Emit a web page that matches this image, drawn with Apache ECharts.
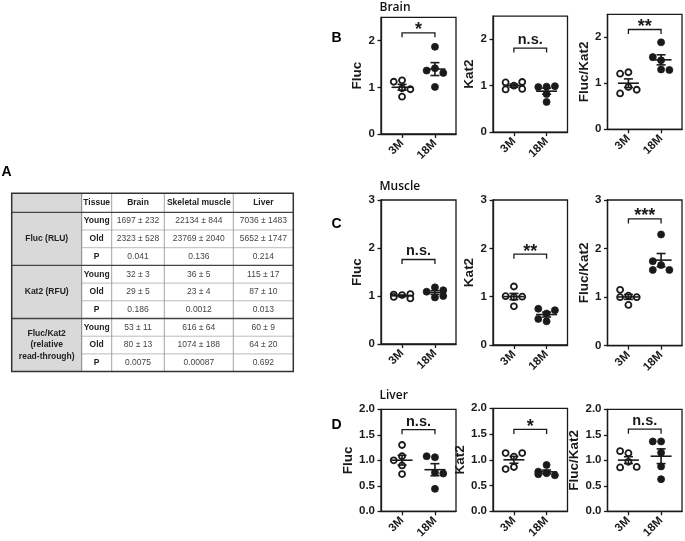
<!DOCTYPE html>
<html><head><meta charset="utf-8">
<script src="https://cdn.jsdelivr.net/npm/echarts@6/dist/echarts.min.js"></script>
<style>html,body{margin:0;padding:0;background:#fff}#c{width:685px;height:541px}</style>
</head><body><div id="c"></div>
<script>
// ---------------- DATA ----------------
const categories = ['3M', '18M'];
const tissues = ['Brain', 'Muscle', 'Liver'];
const panelLetters = ['B', 'C', 'D'];
const measures = ['Fluc', 'Kat2', 'Fluc/Kat2'];

const brainFluc3M = [0.80, 1.15, 1.12, 0.98, 0.96];
const brainFluc18M = [1.87, 1.41, 1.36, 1.31, 1.01];
const brainKat2_3M = [1.00, 1.07, 1.08, 0.92, 0.93];
const brainKat2_18M = [0.98, 0.97, 0.99, 0.82, 0.65];
const brainRatio3M = [1.24, 1.21, 0.92, 0.86, 0.78];
const brainRatio18M = [1.89, 1.50, 1.57, 1.30, 1.29];

const muscleFluc3M = [1.02, 1.03, 1.04, 0.95, 0.98];
const muscleFluc18M = [1.18, 1.09, 1.12, 0.97, 1.00];
const muscleKat2_3M = [1.21, 0.99, 1.01, 1.00, 0.80];
const muscleKat2_18M = [0.65, 0.75, 0.72, 0.54, 0.49];
const muscleRatio3M = [1.03, 1.15, 1.00, 1.00, 0.84];
const muscleRatio18M = [2.29, 1.66, 1.74, 1.56, 1.56];

const liverFluc3M = [1.30, 0.90, 0.73, 1.08, 1.00];
const liverFluc18M = [1.06, 1.08, 0.76, 0.74, 0.44];
const liverKat2_3M = [1.06, 1.13, 1.13, 0.86, 0.82];
const liverKat2_18M = [0.90, 0.74, 0.77, 0.70, 0.72];
const liverRatio3M = [1.14, 1.18, 0.97, 0.87, 0.86];
const liverRatio18M = [1.37, 1.37, 1.15, 0.88, 0.63];

const sigLabels = [['*', 'n.s.', '**'], ['n.s.', '**', '***'], ['n.s.', '*', 'n.s.']];
const bracketLevels = [[2.17, 1.81, 2.17], [1.76, 1.88, 2.61], [1.60, 1.59, 1.61]];

const yMaxes = [2.5, 3, 2];
const yTickValues = [[0, 1, 2], [0, 1, 2, 3], [0, 0.5, 1, 1.5, 2]];
const yTickDecimals = [0, 0, 1];

// Table (panel A)
const tableHeader = ['', 'Tissue', 'Brain', 'Skeletal muscle', 'Liver'];
const tableGroups = ['Fluc (RLU)', 'Kat2 (RFU)', 'Fluc/Kat2\n(relative\nread-through)'];
const tableRowLabels = ['Young', 'Old', 'P'];
const flucRLU = [['1697 ± 232', '22134 ± 844', '7036 ± 1483'], ['2323 ± 528', '23769 ± 2040', '5652 ± 1747'], ['0.041', '0.136', '0.214']];
const kat2RFU = [['32 ± 3', '36 ± 5', '115 ± 17'], ['29 ± 5', '23 ± 4', '87 ± 10'], ['0.186', '0.0012', '0.013']];
const ratioRT = [['53 ± 11', '616 ± 64', '60 ± 9'], ['80 ± 13', '1074 ± 188', '64 ± 20'], ['0.0075', '0.00087', '0.692']];

const plotData = [
  [[brainFluc3M, brainFluc18M], [brainKat2_3M, brainKat2_18M], [brainRatio3M, brainRatio18M]],
  [[muscleFluc3M, muscleFluc18M], [muscleKat2_3M, muscleKat2_18M], [muscleRatio3M, muscleRatio18M]],
  [[liverFluc3M, liverFluc18M], [liverKat2_3M, liverKat2_18M], [liverRatio3M, liverRatio18M]]
];
const tableBody = [flucRLU, kat2RFU, ratioRT];

// ---------------- LAYOUT / STYLE ----------------
const FONT = '"Liberation Sans", Arial, Helvetica, sans-serif';
const INK = '#1a1a1a';
const lefts = [381, 493, 607.5], widths = [75, 74.5, 74.5];
const tops = [[17.4, 16.1, 14.3], [200, 200, 200], [409.3, 408.3, 409.3]];
const heights = [[116.6, 116, 115], [144, 145, 145.7], [102.4, 103.4, 103.4]];
const nameGaps = [[16.5, 14.5, 13.5], [15.5, 14.5, 12], [24, 21, 18.5]];
const X_MIN = -0.64, X_MAX = 1.64;
const DOT_STEP = 8.3, DOT_THR = 6.8;

function mean(a) { return a.reduce((s, v) => s + v, 0) / a.length; }
function sem(a) {
  const m = mean(a);
  const v = a.reduce((s, x) => s + (x - m) * (x - m), 0) / (a.length - 1);
  return Math.sqrt(v) / Math.sqrt(a.length);
}
// simple greedy beeswarm: column index per point (-1, 0, +1)
function swarm(vals, pxPerUnit) {
  const placed = [], counts = { '-1': 0, '0': 0, '1': 0 };
  return vals.map(v => {
    const py = v * pxPerUnit;
    const cands = counts['1'] < counts['-1'] ? [0, 1, -1] : [0, -1, 1];
    let best = 0, bestD = -1;
    for (const k of cands) {
      let md = Infinity;
      for (const p of placed) md = Math.min(md, Math.hypot((p.k - k) * DOT_STEP, p.py - py));
      if (md >= DOT_THR) { best = k; bestD = md; break; }
      if (md > bestD) { bestD = md; best = k; }
    }
    placed.push({ k: best, py });
    counts[String(best)]++;
    return best;
  });
}

const grid = [], xAxis = [], yAxis = [], series = [];
for (let r = 0; r < 3; r++) {
  for (let c = 0; c < 3; c++) {
    const i = r * 3 + c;
    const W = widths[c], H = heights[r][c];
    grid.push({ left: lefts[c], top: tops[r][c], width: W, height: H, show: true,
      borderColor: INK, borderWidth: 1.3, backgroundColor: 'transparent' });
    xAxis.push({ gridIndex: i, type: 'value', min: X_MIN, max: X_MAX,
      axisLine: { show: true, onZero: false, lineStyle: { color: INK, width: 1.3 } },
      axisTick: { show: true, customValues: [0, 1], length: 4, lineStyle: { color: INK, width: 1.3 } },
      axisLabel: { show: true, customValues: [0, 1], rotate: 45, margin: 7.5,
        formatter: v => categories[Math.round(v)],
        fontFamily: FONT, fontWeight: 'bold', fontSize: 11.5, color: INK },
      splitLine: { show: false } });
    const dec = yTickDecimals[r];
    yAxis.push({ gridIndex: i, type: 'value', min: 0, max: yMaxes[r],
      name: measures[c], nameLocation: 'middle', nameGap: nameGaps[r][c],
      nameTextStyle: { fontFamily: FONT, fontWeight: 'bold', fontSize: 13.5, color: INK },
      axisLine: { show: true, onZero: false, lineStyle: { color: INK, width: 1.3 } },
      axisTick: { show: true, customValues: yTickValues[r], length: 3.5, lineStyle: { color: INK, width: 1.3 } },
      axisLabel: { show: true, customValues: yTickValues[r], margin: 6,
        formatter: v => Number(v).toFixed(dec),
        fontFamily: FONT, fontWeight: 'bold', fontSize: 11.5, color: INK },
      splitLine: { show: false } });

    const pxPerUnitY = H / yMaxes[r];
    const unitPerPxX = (X_MAX - X_MIN) / W;
    const groups = plotData[r][c];
    groups.forEach((vals, g) => {
      const cols = swarm(vals, pxPerUnitY);
      series.push({ type: 'scatter', xAxisIndex: i, yAxisIndex: i, z: 3,
        symbol: 'circle', symbolSize: g === 0 ? 6 : 7,
        itemStyle: { color: g === 0 ? '#fff' : INK, borderColor: INK, borderWidth: g === 0 ? 1.8 : 0.8, opacity: 1 },
        data: vals.map((v, j) => [g + cols[j] * DOT_STEP * unitPerPxX, v]),
        emphasis: { disabled: true }, silent: true });
    });
    series.push({ type: 'custom', xAxisIndex: i, yAxisIndex: i, z: 4, silent: true, clip: false,
      data: groups.map((vals, g) => [g, mean(vals), sem(vals)]),
      renderItem: (params, api) => {
        const x = api.value(0), m = api.value(1), s = api.value(2);
        const cpt = api.coord([x, m]), tp = api.coord([x, m + s]), bt = api.coord([x, m - s]);
        const st = { stroke: INK, lineWidth: 1.6 };
        return { type: 'group', children: [
          { type: 'line', shape: { x1: cpt[0] - 10.5, y1: cpt[1], x2: cpt[0] + 10.5, y2: cpt[1] }, style: st },
          { type: 'line', shape: { x1: cpt[0], y1: tp[1], x2: cpt[0], y2: bt[1] }, style: st },
          { type: 'line', shape: { x1: cpt[0] - 4.5, y1: tp[1], x2: cpt[0] + 4.5, y2: tp[1] }, style: st },
          { type: 'line', shape: { x1: cpt[0] - 4.5, y1: bt[1], x2: cpt[0] + 4.5, y2: bt[1] }, style: st }
        ] };
      } });
    const label = sigLabels[r][c];
    series.push({ type: 'custom', xAxisIndex: i, yAxisIndex: i, z: 4, silent: true, clip: false,
      data: [[0, 1, bracketLevels[r][c]]],
      renderItem: (params, api) => {
        const a = api.coord([api.value(0), api.value(2)]), b = api.coord([api.value(1), api.value(2)]);
        const st = { stroke: INK, lineWidth: 1.3, fill: null };
        const isStar = label.indexOf('*') >= 0;
        return { type: 'group', children: [
          { type: 'polyline', shape: { points: [[a[0], a[1] + 4.5], [a[0], a[1]], [b[0], b[1]], [b[0], b[1] + 4.5]] }, style: st },
          { type: 'text', x: (a[0] + b[0]) / 2, y: a[1] - (isStar ? 2.6 : 8.2),
            style: { text: label, fill: INK, align: 'center', verticalAlign: 'middle',
              font: (isStar ? 'bold 18px ' : 'bold 14.5px ') + FONT } }
        ] };
      } });
  }
}

// ---------------- GRAPHICS (titles, letters, table) ----------------
const graphic = [];
const titleBaselines = [10.5, 189.3, 398.5];
const letterBaselines = [42, 228.3, 429.5];
for (let r = 0; r < 3; r++) {
  graphic.push({ type: 'text', left: 379.5, top: titleBaselines[r] - 9,
    style: { text: tissues[r], fill: '#111', font: '600 12px "Open Sans", sans-serif' } });
  graphic.push({ type: 'text', left: 331.5, top: letterBaselines[r] - 11,
    style: { text: panelLetters[r], fill: '#000', font: 'bold 14px ' + FONT } });
}
graphic.push({ type: 'text', left: 1.5, top: 165, style: { text: 'A', fill: '#000', font: 'bold 14px ' + FONT } });

const tblX = [11.7, 81.7, 111.7, 164.3, 233.3, 293.3];
const tblTop = 193.3, headH = 19, rowH = 17.7;
const tblBottom = tblTop + headH + rowH * 9;
graphic.push({ type: 'rect', shape: { x: tblX[0], y: tblTop, width: tblX[1] - tblX[0], height: tblBottom - tblTop },
  style: { fill: '#d9d9d9' } });
// thin inner row lines
for (let k = 1; k <= 9; k++) {
  const y = tblTop + headH + rowH * k;
  if (k % 3 !== 0) graphic.push({ type: 'line', shape: { x1: tblX[1], y1: y, x2: tblX[5], y2: y }, style: { stroke: '#aaa', lineWidth: 0.8 } });
}
for (let k = 1; k <= 4; k++) {
  graphic.push({ type: 'line', shape: { x1: tblX[k], y1: tblTop, x2: tblX[k], y2: tblBottom }, style: { stroke: k === 1 ? '#777' : '#999', lineWidth: 0.9 } });
}
[tblTop + headH, tblTop + headH + rowH * 3, tblTop + headH + rowH * 6].forEach(y => {
  graphic.push({ type: 'line', shape: { x1: tblX[0], y1: y, x2: tblX[5], y2: y }, style: { stroke: '#444', lineWidth: 1.3 } });
});
graphic.push({ type: 'rect', shape: { x: tblX[0], y: tblTop, width: tblX[5] - tblX[0], height: tblBottom - tblTop },
  style: { fill: null, stroke: '#333', lineWidth: 1.5 } });
const colC = k => (tblX[k] + tblX[k + 1]) / 2;
tableHeader.forEach((h, k) => {
  if (!h) return;
  graphic.push({ type: 'text', x: colC(k), y: tblTop + headH / 2,
    style: { text: h, fill: '#222', align: 'center', verticalAlign: 'middle', font: 'bold 8.5px ' + FONT } });
});
tableGroups.forEach((gname, g) => {
  const y0 = tblTop + headH + rowH * 3 * g;
  graphic.push({ type: 'text', x: colC(0), y: y0 + rowH * 1.5,
    style: { text: gname, fill: '#222', align: 'center', verticalAlign: 'middle', lineHeight: 11.5, font: 'bold 8.5px ' + FONT } });
  tableRowLabels.forEach((rl, j) => {
    const yc = y0 + rowH * (j + 0.5);
    graphic.push({ type: 'text', x: colC(1), y: yc,
      style: { text: rl, fill: '#222', align: 'center', verticalAlign: 'middle', font: 'bold 8.5px ' + FONT } });
    tableBody[g][j].forEach((val, k) => {
      graphic.push({ type: 'text', x: colC(k + 2), y: yc,
        style: { text: val, fill: '#444', align: 'center', verticalAlign: 'middle', font: '8.5px ' + FONT } });
    });
  });
});

const chart = echarts.init(document.getElementById('c'));
chart.setOption({ animation: false, backgroundColor: '#fff', grid, xAxis, yAxis, series, graphic });
</script></body></html>
